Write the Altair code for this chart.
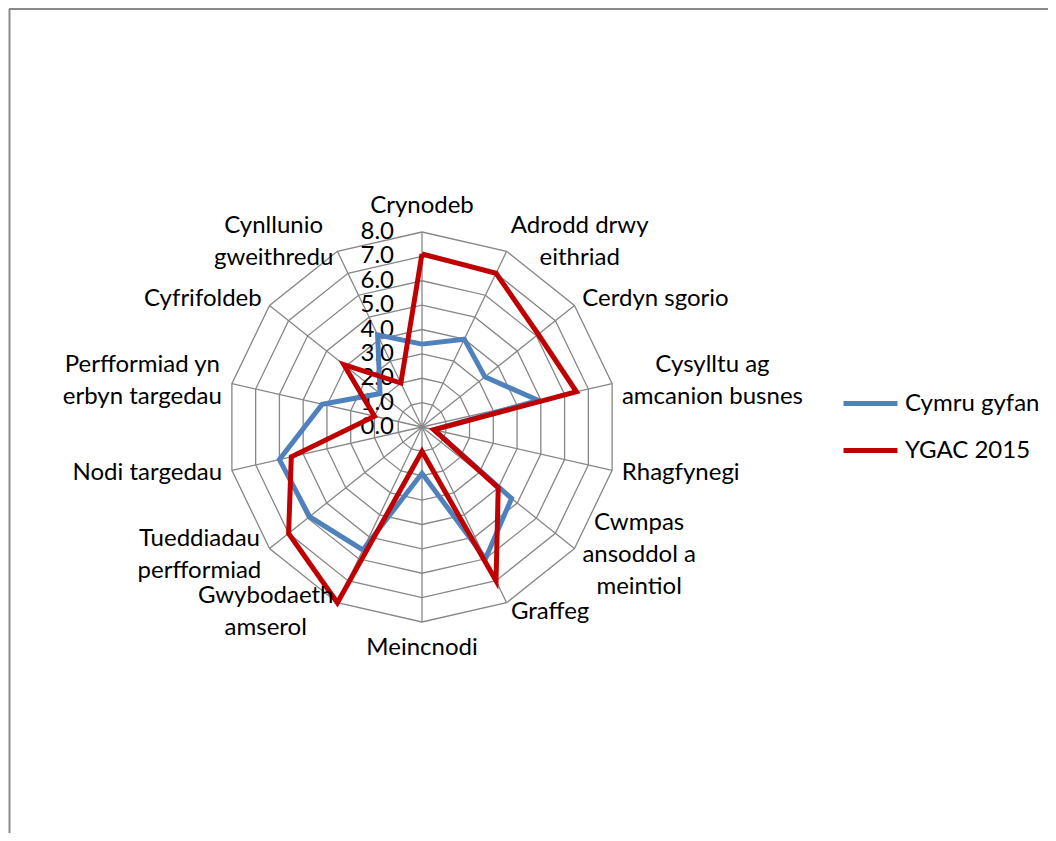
import math
import altair as alt
import pandas as pd

# ---------------- data ----------------
categories = [
    "Crynodeb",
    "Adrodd drwy\neithriad",
    "Cerdyn sgorio",
    "Cysylltu ag\namcanion busnes",
    "Rhagfynegi",
    "Cwmpas\nansoddol a\nmeintiol",
    "Graffeg",
    "Meincnodi",
    "Gwybodaeth\namserol",
    "Tueddiadau\nperfformiad",
    "Nodi targedau",
    "Perfformiad yn\nerbyn targedau",
    "Cyfrifoldeb",
    "Cynllunio\ngweithredu",
]
series_names = ["Cymru gyfan", "YGAC 2015"]
cymru_gyfan = [3.4, 4.0, 3.3, 4.9, 0.5, 4.7, 6.0, 1.9, 5.6, 5.9, 6.0, 4.2, 2.2, 4.2]
ygac_2015 = [7.1, 7.0, 6.1, 6.5, 0.5, 4.0, 7.0, 1.0, 8.0, 7.0, 5.5, 2.0, 4.1, 2.0]
tick_values = [0, 1, 2, 3, 4, 5, 6, 7, 8]
tick_labels = ["0.0", "1.0", "2.0", "3.0", "4.0", "5.0", "6.0", "7.0", "8.0"]
series_colors = ["#4F81BD", "#C00000"]

# ---------------- layout / style ----------------
W, H = 1040, 825
PX = 24.375              # pixels per data unit
CX, CY = 414, 419        # centre of the radar in chart pixels
XMIN = -CX / PX
XMAX = XMIN + W / PX
YMAX = CY / PX
YMIN = YMAX - H / PX
FONT = "Lato"
FS = 24
LH = 32
GAP = 10
GRID = "#878787"
RMAX = max(tick_values)

n = len(categories)

xs = alt.Scale(domain=[XMIN, XMAX], nice=False, zero=False)
ys = alt.Scale(domain=[YMIN, YMAX], nice=False, zero=False)

# rough Lato advance widths (em)
CW = {"a": .51, "b": .56, "c": .46, "d": .56, "e": .52, "f": .33, "g": .50, "h": .56,
      "i": .24, "j": .24, "k": .50, "l": .24, "m": .84, "n": .56, "o": .56, "p": .56,
      "q": .56, "r": .37, "s": .43, "t": .36, "u": .56, "v": .50, "w": .76, "y": .50,
      " ": .25, "C": .66, "A": .68, "P": .59, "T": .56, "G": .72, "N": .73, "M": .88}


def text_w(s):
    return sum(CW.get(ch, .6) for ch in s) * FS


def ang(i):
    return 2 * math.pi * i / n


# grid rings
ring_rows = []
for r in tick_values[1:]:
    for k in range(n + 1):
        a = ang(k % n)
        ring_rows.append({"ring": r, "k": k, "x": r * math.sin(a), "y": r * math.cos(a)})
rings_df = pd.DataFrame(ring_rows)

# spokes
spoke_df = pd.DataFrame([{"x": 0.0, "y": 0.0,
                          "x2": RMAX * math.sin(ang(i)), "y2": RMAX * math.cos(ang(i))}
                         for i in range(n)])

# series
ser_rows = []
for name, vals in zip(series_names, [cymru_gyfan, ygac_2015]):
    for k in range(n + 1):
        i = k % n
        v = vals[i]
        ser_rows.append({"series": name, "k": k, "x": v * math.sin(ang(i)), "y": v * math.cos(ang(i))})
ser_df = pd.DataFrame(ser_rows)

# tick labels
tick_df = pd.DataFrame({"x": [0.0] * len(tick_values), "y": tick_values, "t": tick_labels})

# category labels
lab_rows = []
for i, cat in enumerate(categories):
    a = ang(i)
    s, c = math.sin(a), math.cos(a)
    lines = cat.split("\n")
    w = max(text_w(l) for l in lines)
    h = len(lines) * LH
    r = RMAX + GAP / PX
    x, y = r * s, r * c
    if abs(s) < 0.1:
        al = "center"
        y += c * h / 2 / PX
    elif len(lines) == 1:
        al = "left" if s > 0 else "right"
    else:
        al = "center"
        x += math.copysign(w / 2 / PX, s)
    # first line sits at the anchor: lift block so it is centred
    y += (len(lines) - 1) * LH / 2 / PX
    lab_rows.append({"label": cat, "x": x, "y": y, "align": al})
lab_df = pd.DataFrame(lab_rows)

# ---------------- layers ----------------
rings = alt.Chart(rings_df).mark_line(color=GRID, strokeWidth=1.3).encode(
    x=alt.X("x:Q", scale=xs, axis=None),
    y=alt.Y("y:Q", scale=ys, axis=None),
    detail="ring:N",
    order="k:Q",
)

spokes = alt.Chart(spoke_df).mark_rule(color=GRID, strokeWidth=1.3).encode(
    x=alt.X("x:Q", scale=xs, axis=None),
    y=alt.Y("y:Q", scale=ys, axis=None),
    x2="x2:Q",
    y2="y2:Q",
)

ticks = alt.Chart(tick_df).mark_text(
    align="right", baseline="middle", dx=-28, font=FONT, fontSize=FS, color="#000000"
).encode(
    x=alt.X("x:Q", scale=xs, axis=None),
    y=alt.Y("y:Q", scale=ys, axis=None),
    text="t:N",
)

lines = alt.Chart(ser_df).mark_line(strokeWidth=5, strokeJoin="miter").encode(
    x=alt.X("x:Q", scale=xs, axis=None),
    y=alt.Y("y:Q", scale=ys, axis=None),
    color=alt.Color(
        "series:N",
        scale=alt.Scale(domain=series_names, range=series_colors),
        legend=alt.Legend(
            title=None,
            orient="none",
            legendX=849,
            legendY=382,
            padding=0,
            symbolType="M-2.5,0H2.5",
            symbolSize=466,
            symbolStrokeWidth=5,
            labelOffset=21,
            labelFont=FONT,
            labelFontSize=FS,
            labelColor="#000000",
            rowPadding=21,
        ),
    ),
    detail="series:N",
    order="k:Q",
)

label_layers = []
for al in ["left", "right", "center"]:
    sub = lab_df[lab_df["align"] == al]
    if len(sub) == 0:
        continue
    label_layers.append(
        alt.Chart(sub).mark_text(
            align=al, baseline="middle", lineBreak="\n", lineHeight=LH,
            font=FONT, fontSize=FS, color="#000000"
        ).encode(
            x=alt.X("x:Q", scale=xs, axis=None),
            y=alt.Y("y:Q", scale=ys, axis=None),
            text="label:N",
        )
    )

frame_df = pd.DataFrame({"k": [0]})
frame_top = alt.Chart(frame_df).mark_rule(color="#8a8a8a", strokeWidth=2).encode(
    x=alt.value(1), x2=alt.value(W), y=alt.value(1)
)
frame_left = alt.Chart(frame_df).mark_rule(color="#8a8a8a", strokeWidth=2).encode(
    x=alt.value(1.5), y=alt.value(1), y2=alt.value(H)
)

chart = alt.layer(
    frame_top, frame_left, rings, spokes, ticks, lines, *label_layers
).properties(
    width=W, height=H, padding=0, autosize=alt.AutoSizeParams(type="none"),
    background="#ffffff",
).configure_view(stroke=None)

chart.save("out.html", embed_options={"renderer": "svg", "actions": False})
